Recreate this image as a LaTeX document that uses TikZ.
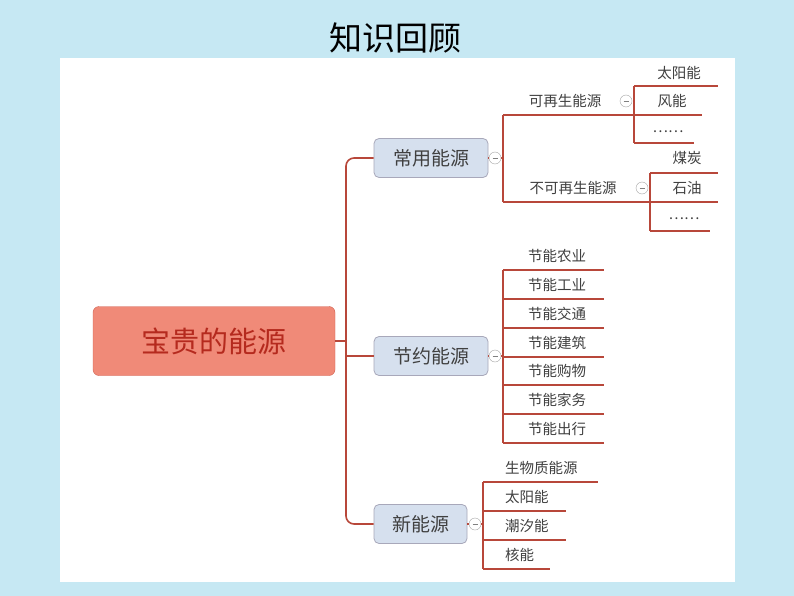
\documentclass[tikz,border=0pt]{standalone}
\usepackage{fontspec}
\setmainfont{Noto Sans CJK SC}
\begin{document}
\begin{tikzpicture}[x=1pt,y=-1pt,
 ln/.style={draw=lc,line width=1.6pt},
 br/.style={draw=bd,fill=bf,rounded corners=5pt,line width=0.8pt,minimum height=39pt,font=\fontsize{19}{19}\selectfont,text=tc},
 lf/.style={font=\fontsize{14.5}{14.5}\selectfont,text=tc,inner sep=1pt},
 cc/.style={circle,draw=gray!70,fill=white,minimum size=12pt,inner sep=0pt,path picture={\draw[gray,line width=0.6pt] ([xshift=-2.5pt]path picture bounding box.center) -- ([xshift=2.5pt]path picture bounding box.center);}}]
\definecolor{lc}{HTML}{B8473A}
\definecolor{bd}{HTML}{A8A8BA}
\definecolor{bf}{HTML}{D6E0EE}
\definecolor{tc}{HTML}{404040}
\definecolor{rootf}{HTML}{F08A78}
\definecolor{rootd}{HTML}{D06050}
\definecolor{roott}{HTML}{B52A1E}
\definecolor{bg}{HTML}{C6E8F3}
\fill[bg] (0,0) rectangle (794,596);
\useasboundingbox (0,0) rectangle (794,596);
\fill[white] (60,58) rectangle (735,582);
\node (title) at (395,38) {\fontsize{33}{33}\selectfont 知识回顾};
% root
\node[draw=rootd,fill=rootf,rounded corners=6pt,minimum width=242pt,minimum height=69pt,text=roott,font=\fontsize{29}{29}\selectfont] (root) at (214,341) {宝贵的能源};
% branches
\node[br,minimum width=114pt] (b1) at (431,158) {常用能源};
\node[br,minimum width=114pt] (b2) at (431,356) {节约能源};
\node[br,minimum width=93pt] (b3) at (420.5,524) {新能源};
\coordinate (t0) at (346,341);
\draw[ln] (root.east) -- (t0);
\draw[ln,rounded corners=8pt] (b1.west) -- (346,158) -- (346,524) -- (b3.west);
\draw[ln] (346,356) -- (b2.west);
% 常用能源
\draw[ln] (503,115) -- (503,202);
\draw[ln] (b1.east) -- (503,158);
\node[cc] (c1) at (495,158) {};
\node[lf] (r1) at (565,101) {可再生能源};
\node[lf] (r2) at (573,188) {不可再生能源};
\draw[ln] (503,115) -- (630,115);
\draw[ln] (503,202) -- (658,202);
\draw[ln] (634,86) -- (634,143);
\draw[ln] (634,86) -- (718,86);
\draw[ln] (634,143) -- (694,143);
\draw[ln] (610,115) -- (702,115);
\node[cc] (c4) at (626,101) {};
\node[lf] (s1) at (679,73) {太阳能};
\node[lf] (s2) at (672,101) {风能};
\node[lf] (s3) at (668,132) {……};
\draw[ln] (650,173) -- (650,231);
\draw[ln] (650,173) -- (718,173);
\draw[ln] (630,202) -- (718,202);
\draw[ln] (650,231) -- (710,231);
\node[cc] (c5) at (642,188) {};
\node[lf] (s4) at (687,158) {煤炭};
\node[lf] (s5) at (687,188) {石油};
\node[lf] (s6) at (684,219) {……};
% 节约能源
\draw[ln] (503,270) -- (503,443);
\draw[ln] (b2.east) -- (503,356);
\node[cc] (c2) at (495,356) {};
\foreach \y/\t [count=\i] in {270/节能农业,299/节能工业,328/节能交通,357/节能建筑,385/节能购物,414/节能家务,443/节能出行}{
 \draw[ln] (503,\y) -- (604,\y);
 \node[lf] (j\i) at (557,\y-14) {\t};
}
% 新能源
\draw[ln] (483,482) -- (483,569);
\draw[ln] (b3.east) -- (483,524);
\node[cc] (c3) at (475,524) {};
\foreach \y/\e/\t [count=\i] in {482/598/生物质能源,511/566/太阳能,540/566/潮汐能,569/550/核能}{
 \draw[ln] (483,\y) -- (\e,\y);
 \node[lf,anchor=west] (n\i) at (504,\y-14) {\t};
}
\end{tikzpicture}
\end{document}
